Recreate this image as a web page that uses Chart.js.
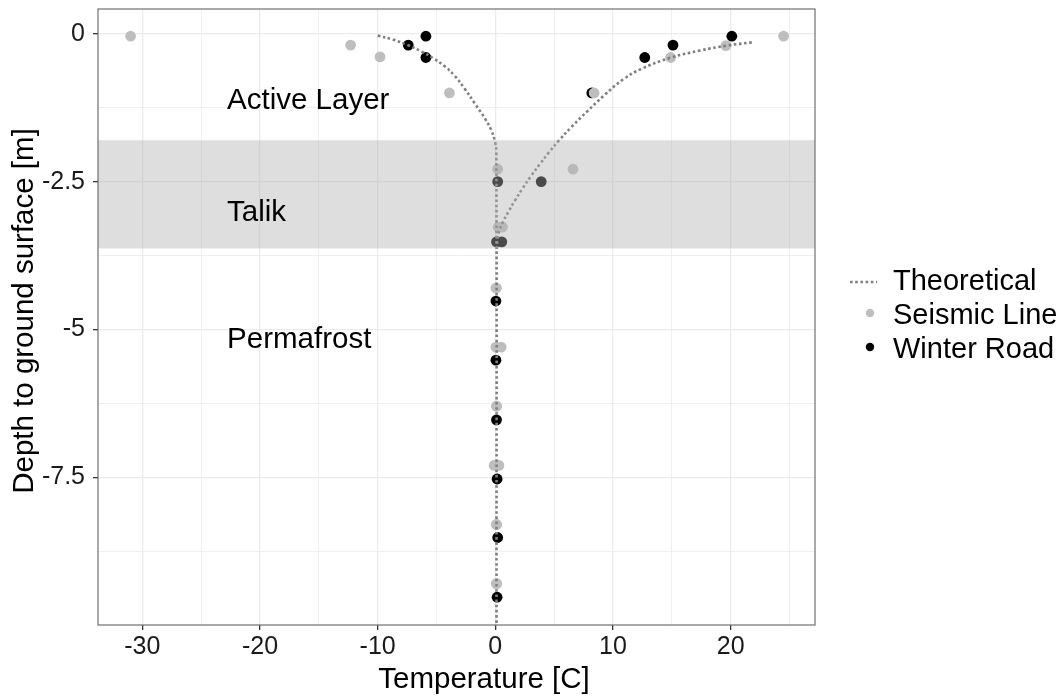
<!DOCTYPE html>
<html>
<head>
<meta charset="utf-8">
<script src="https://cdn.jsdelivr.net/npm/chart.js@4"></script>
<style>
  html, body { margin: 0; padding: 0; background: #fff; }
  #wrap { width: 1063px; height: 698px; position: relative; }
</style>
</head>
<body>
<div id="wrap"><canvas id="profile-chart"></canvas></div>
<script>
// measured temperatures [C] and depths [m]
var seismicTemp  = [-31.0, -12.3, -9.8, -3.9, 0.2, 0.25, 0.05, 0.05, 0.1, -0.1, 0.1, 0.1,
                    24.5, 19.6, 14.9, 8.4, 6.6, 0.6, 0.1, 0.5, 0.1, 0.3, 0.1, 0.1];
var seismicDepth = [-0.04, -0.19, -0.39, -1.0, -2.29, -3.27, -4.3, -5.3, -6.3, -7.3, -8.3, -9.3,
                    -0.04, -0.2, -0.4, -1.0, -2.29, -3.27, -4.3, -5.3, -6.3, -7.3, -8.3, -9.3];
var winterTemp   = [-5.9, -7.4, -5.9, 0.2, 0.1, 0.05, 0.05, 0.1, 0.15, 0.2, 0.15,
                    20.1, 15.1, 12.7, 8.2, 3.9, 0.55];
var winterDepth  = [-0.04, -0.19, -0.4, -2.5, -3.52, -4.52, -5.52, -6.53, -7.53, -8.52, -9.53,
                    -0.04, -0.19, -0.4, -1.0, -2.5, -3.52];

// theoretical profiles
var theoColdTemp  = [-10.0, -8.72, -7.45, -6.26, -5.23, -4.30, -3.45, -2.60, -1.74, -0.89, -0.34, -0.04, 0.085, 0.1];
var theoColdDepth = [-0.03, -0.096, -0.19, -0.30, -0.42, -0.55, -0.71, -0.93, -1.18, -1.43, -1.63, -1.82, -2.0, -10];
var theoWarmTemp  = [21.8, 19.7, 17.4, 14.94, 12.38, 10.85, 9.23, 7.79, 6.47, 5.40, 4.55, 3.79, 3.06, 2.34, 1.66, 1.11, 0.66, 0.34, 0.17, 0.13];
var theoWarmDepth = [-0.144, -0.198, -0.283, -0.401, -0.596, -0.773, -1.044, -1.315, -1.577, -1.805, -2.008, -2.203, -2.398, -2.609, -2.821, -3.01, -3.176, -3.328, -3.489, -3.66];

var talikTop = -1.8;
var talikBottom = -3.63;

var layerNames = ["Active Layer", "Talik", "Permafrost"];
var layerTemp  = [-22.8, -22.8, -22.8];
var layerDepth = [-1.13, -3.02, -5.18];

var xTicks = [-30, -25, -20, -15, -10, -5, 0, 5, 10, 15, 20, 25];
var xLabels = [-30, -20, -10, 0, 10, 20];
var yTicks = [-8.75, -7.5, -6.25, -5, -3.75, -2.5, -1.25, 0];
var yLabels = [0, -2.5, -5, -7.5];

var FONT = '"Liberation Sans", Arial, Helvetica, sans-serif';

function pts(xs, ys) {
  return xs.map(function (v, i) { return { x: v, y: ys[i] }; });
}

var bandAndText = {
  id: 'bandAndText',
  afterDatasetsDraw: function (chart) {
    var ctx = chart.ctx, a = chart.chartArea;
    var x = chart.scales.x, y = chart.scales.y;
    ctx.save();
    ctx.beginPath();
    ctx.rect(a.left, a.top, a.right - a.left, a.bottom - a.top);
    ctx.clip();
    var t = y.getPixelForValue(talikTop), b = y.getPixelForValue(talikBottom);
    ctx.fillStyle = 'rgba(177,177,177,0.42)';
    ctx.fillRect(a.left, t, a.right - a.left, b - t);
    ctx.restore();

    ctx.save();
    ctx.font = '29.5px ' + FONT;
    ctx.fillStyle = '#000';
    ctx.textAlign = 'left';
    ctx.textBaseline = 'middle';
    layerNames.forEach(function (s, i) {
      ctx.fillText(s, x.getPixelForValue(layerTemp[i]), y.getPixelForValue(layerDepth[i]));
    });
    ctx.strokeStyle = '#707070';
    ctx.lineWidth = 1.2;
    ctx.strokeRect(a.left, a.top, a.right - a.left, a.bottom - a.top);
    ctx.restore();
  },
  afterDraw: function (chart) {
    var ctx = chart.ctx;
    ctx.save();
    ctx.fillStyle = '#000';
    ctx.textBaseline = 'middle';
    ctx.textAlign = 'center';
    ctx.font = '29.5px ' + FONT;
    // axis titles
    ctx.fillText('Temperature [C]', 484, 680);
    ctx.save();
    ctx.translate(25, 311);
    ctx.rotate(-Math.PI / 2);
    ctx.fillText('Depth to ground surface [m]', 0, 0);
    ctx.restore();

    // legend
    ctx.textAlign = 'left';
    ctx.font = '29px ' + FONT;
    ctx.strokeStyle = '#7f7f7f';
    ctx.lineWidth = 2.6;
    ctx.setLineDash([2.6, 2.6]);
    ctx.beginPath();
    ctx.moveTo(850, 282);
    ctx.lineTo(877, 282);
    ctx.stroke();
    ctx.setLineDash([]);
    ctx.fillText('Theoretical', 893, 282);
    ctx.fillStyle = '#bebebe';
    ctx.beginPath();
    ctx.arc(870, 313, 4.2, 0, Math.PI * 2);
    ctx.fill();
    ctx.fillStyle = '#000';
    ctx.fillText('Seismic Line', 893, 316);
    ctx.beginPath();
    ctx.arc(870, 347, 4.2, 0, Math.PI * 2);
    ctx.fill();
    ctx.fillText('Winter Road', 893, 350);
    ctx.restore();
  }
};

function isMajor(list, v) {
  return list.some(function (m) { return Math.abs(m - v) < 1e-6; });
}

var lineStyle = {
  showLine: true,
  pointRadius: 0,
  borderColor: '#7f7f7f',
  borderWidth: 2.6,
  borderDash: [2.6, 2.6],
  tension: 0.4,
  order: 0
};

new Chart(document.getElementById('profile-chart'), {
  type: 'scatter',
  data: {
    datasets: [
      Object.assign({ label: 'Theoretical', data: pts(theoColdTemp, theoColdDepth) }, lineStyle),
      Object.assign({ label: 'Theoretical', data: pts(theoWarmTemp, theoWarmDepth) }, lineStyle),
      {
        label: 'Seismic Line',
        data: pts(seismicTemp, seismicDepth),
        backgroundColor: '#bebebe',
        borderWidth: 0,
        pointRadius: 5.4,
        order: 1
      },
      {
        label: 'Winter Road',
        data: pts(winterTemp, winterDepth),
        backgroundColor: '#000',
        borderWidth: 0,
        pointRadius: 5.4,
        order: 2
      }
    ]
  },
  options: {
    responsive: true,
    maintainAspectRatio: false,
    animation: false,
    layout: { padding: { top: 9, right: 248, left: 0, bottom: 0 } },
    plugins: { legend: { display: false }, tooltip: { enabled: false } },
    scales: {
      x: {
        type: 'linear',
        min: -33.77,
        max: 27.17,
        afterBuildTicks: function (s) { s.ticks = xTicks.map(function (v) { return { value: v }; }); },
        afterFit: function (s) { s.height = 73; s.paddingLeft = 0; s.paddingRight = 0; },
        border: { display: false },
        grid: {
          color: '#ebebeb',
          lineWidth: function (c) { return isMajor(xLabels, c.tick.value) ? 1.3 : 0.8; },
          tickLength: 5,
          tickWidth: 1.3,
          tickColor: function (c) { return isMajor(xLabels, c.tick.value) ? '#333' : 'rgba(0,0,0,0)'; }
        },
        ticks: {
          autoSkip: false,
          maxRotation: 0,
          padding: 2,
          color: '#1a1a1a',
          font: { family: FONT, size: 25, lineHeight: 1.2 },
          callback: function (v) { return isMajor(xLabels, v) ? String(v) : ''; }
        }
      },
      y: {
        type: 'linear',
        min: -10.0,
        max: 0.42,
        afterBuildTicks: function (s) { s.ticks = yTicks.map(function (v) { return { value: v }; }); },
        afterFit: function (s) { s.width = 98; s.paddingTop = 0; s.paddingBottom = 0; },
        border: { display: false },
        grid: {
          color: '#ebebeb',
          lineWidth: function (c) { return isMajor(yLabels, c.tick.value) ? 1.3 : 0.8; },
          tickLength: 5,
          tickWidth: 1.3,
          tickColor: function (c) { return isMajor(yLabels, c.tick.value) ? '#333' : 'rgba(0,0,0,0)'; }
        },
        ticks: {
          autoSkip: false,
          padding: 8,
          color: '#1a1a1a',
          font: { family: FONT, size: 25, lineHeight: 1.2 },
          callback: function (v) { return isMajor(yLabels, v) ? String(v) : ''; }
        }
      }
    }
  },
  plugins: [bandAndText]
});
</script>
</body>
</html>
